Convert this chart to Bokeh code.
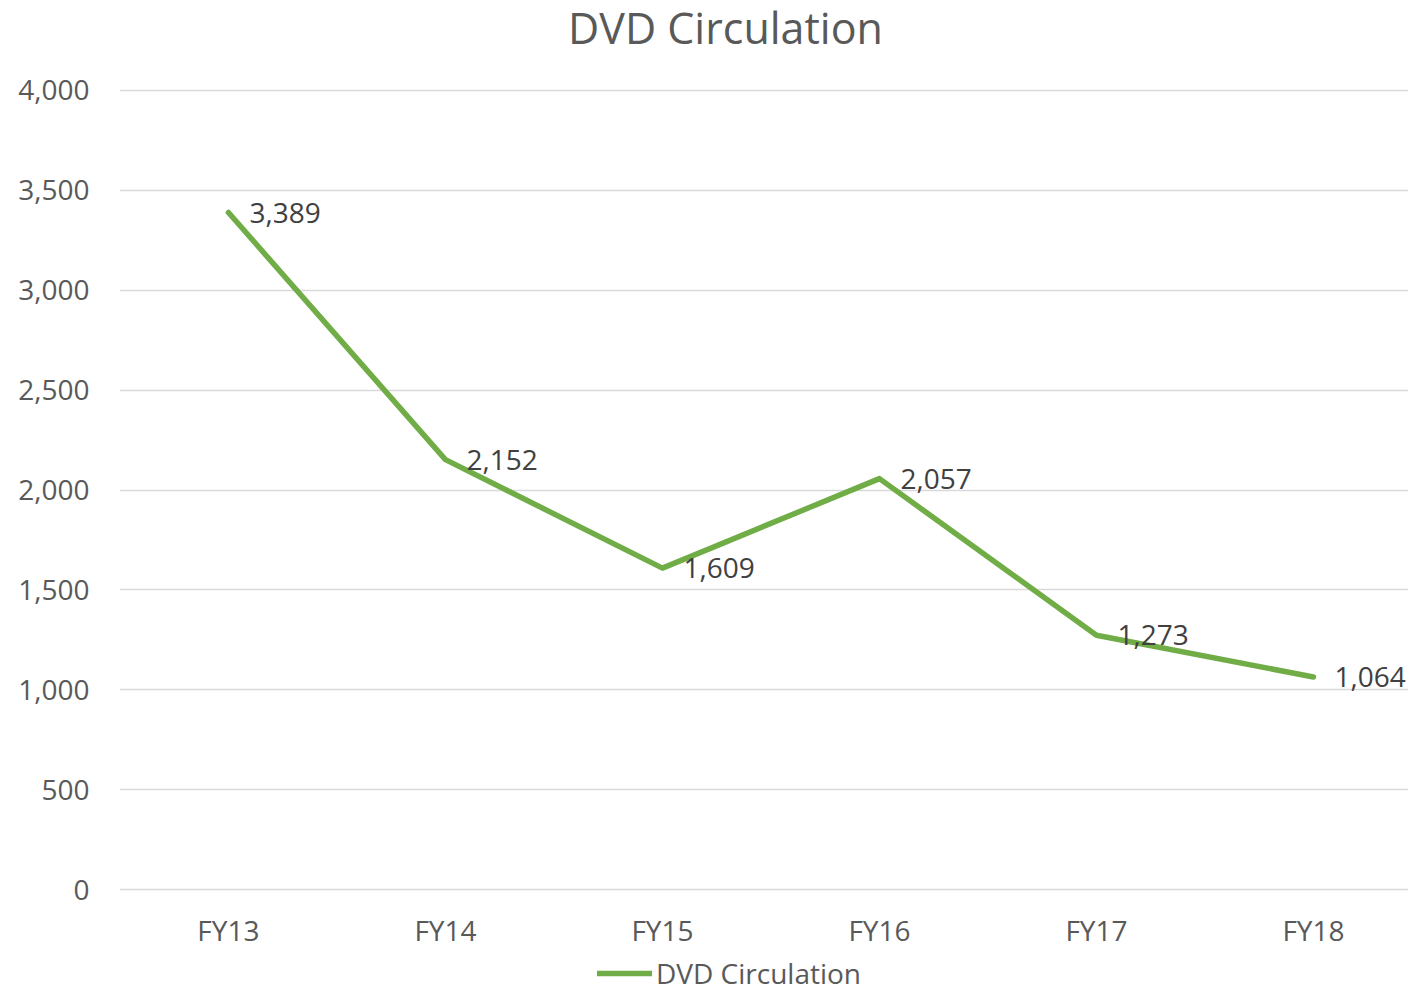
from bokeh.plotting import figure
from bokeh.layouts import column
from bokeh.models import (FixedTicker, NumeralTickFormatter, Range1d, Legend, LegendItem,
                          ColumnDataSource, Label)
from bokeh.core.properties import value
from bokeh.embed import file_html
from bokeh.resources import INLINE

categories = ["FY13", "FY14", "FY15", "FY16", "FY17", "FY18"]
dvd_circulation = [3389, 2152, 1609, 2057, 1273, 1064]
y_ticks = [0, 500, 1000, 1500, 2000, 2500, 3000, 3500, 4000]
title_text = "DVD Circulation"
series_name = "DVD Circulation"

FONT = "Open Sans"
FS = "28px"
GREEN = "#70AD47"
W = 1408
LEFT = 119

def bare(fig):
    fig.outline_line_color = None
    fig.background_fill_color = "white"
    fig.border_fill_color = "white"
    fig.axis.visible = False
    fig.grid.visible = False

xs = list(range(len(categories)))
labels = [f"{v:,}" for v in dvd_circulation]
src = ColumnDataSource(dict(x=xs, y=dvd_circulation, label=labels))

# ---- title strip (frame aligned with main frame: x in page pixels) ----
pt = figure(width=W, height=68, output_backend="svg", toolbar_location=None,
            x_range=Range1d(LEFT, W), y_range=Range1d(0, 68),
            min_border_left=LEFT, min_border_right=0, min_border_top=0, min_border_bottom=0)
bare(pt)
pt.add_layout(Label(x=725, y=41, text=title_text, text_align="center",
                    text_baseline="middle", text_font=FONT, text_font_size="43px",
                    text_color="#595959"))

# ---- main chart ----
p = figure(width=W, height=883, output_backend="svg", toolbar_location=None,
           x_range=Range1d(-0.502, 5.438), y_range=Range1d(-50, 4050),
           min_border_left=LEFT, min_border_right=0, min_border_top=12, min_border_bottom=52)
p.outline_line_color = None
p.background_fill_color = "white"
p.border_fill_color = "white"

line = p.line("x", "y", source=src, line_color=GREEN, line_width=5.5,
              line_cap="round", line_join="round")
p.text("x", "y", text="label", source=src, x_offset=21, text_align="left",
       text_baseline="middle", text_font=value(FONT), text_font_size=FS,
       text_color="#404040")

p.xaxis.ticker = FixedTicker(ticks=xs)
p.xaxis.major_label_overrides = {i: c for i, c in enumerate(categories)}
p.yaxis.ticker = FixedTicker(ticks=y_ticks)
p.yaxis.formatter = NumeralTickFormatter(format="0,0")
for ax in (p.xaxis, p.yaxis):
    ax.axis_line_color = None
    ax.major_tick_line_color = None
    ax.minor_tick_line_color = None
    ax.major_label_text_font = FONT
    ax.major_label_text_font_size = FS
    ax.major_label_text_color = "#595959"
p.yaxis.major_label_standoff = 24
p.xaxis.major_label_standoff = 5

p.xgrid.grid_line_color = None
p.ygrid.ticker = FixedTicker(ticks=y_ticks)
p.ygrid.grid_line_color = "#D9D9D9"
p.ygrid.grid_line_width = 1.5

# ---- legend strip (key line drawn from the series, kept outside the strip's view) ----
pl = figure(width=W, height=41, output_backend="svg", toolbar_location=None,
            x_range=Range1d(0, 1), y_range=Range1d(-1, 0),
            min_border_left=LEFT, min_border_right=0, min_border_top=0, min_border_bottom=0)
bare(pl)
key = pl.line("x", "y", source=src, line_color=GREEN, line_width=5.5, line_cap="round")
legend = Legend(items=[LegendItem(label=series_name, renderers=[key])],
                location=(478, 0), orientation="horizontal",
                label_text_font=FONT, label_text_font_size=FS, label_text_color="#595959",
                glyph_width=55, glyph_height=28, label_standoff=4,
                padding=0, margin=0, border_line_color=None, background_fill_alpha=0)
pl.add_layout(legend, "center")

layout = column(pt, p, pl, spacing=0)
open("out.html", "w").write(file_html(layout, INLINE))
